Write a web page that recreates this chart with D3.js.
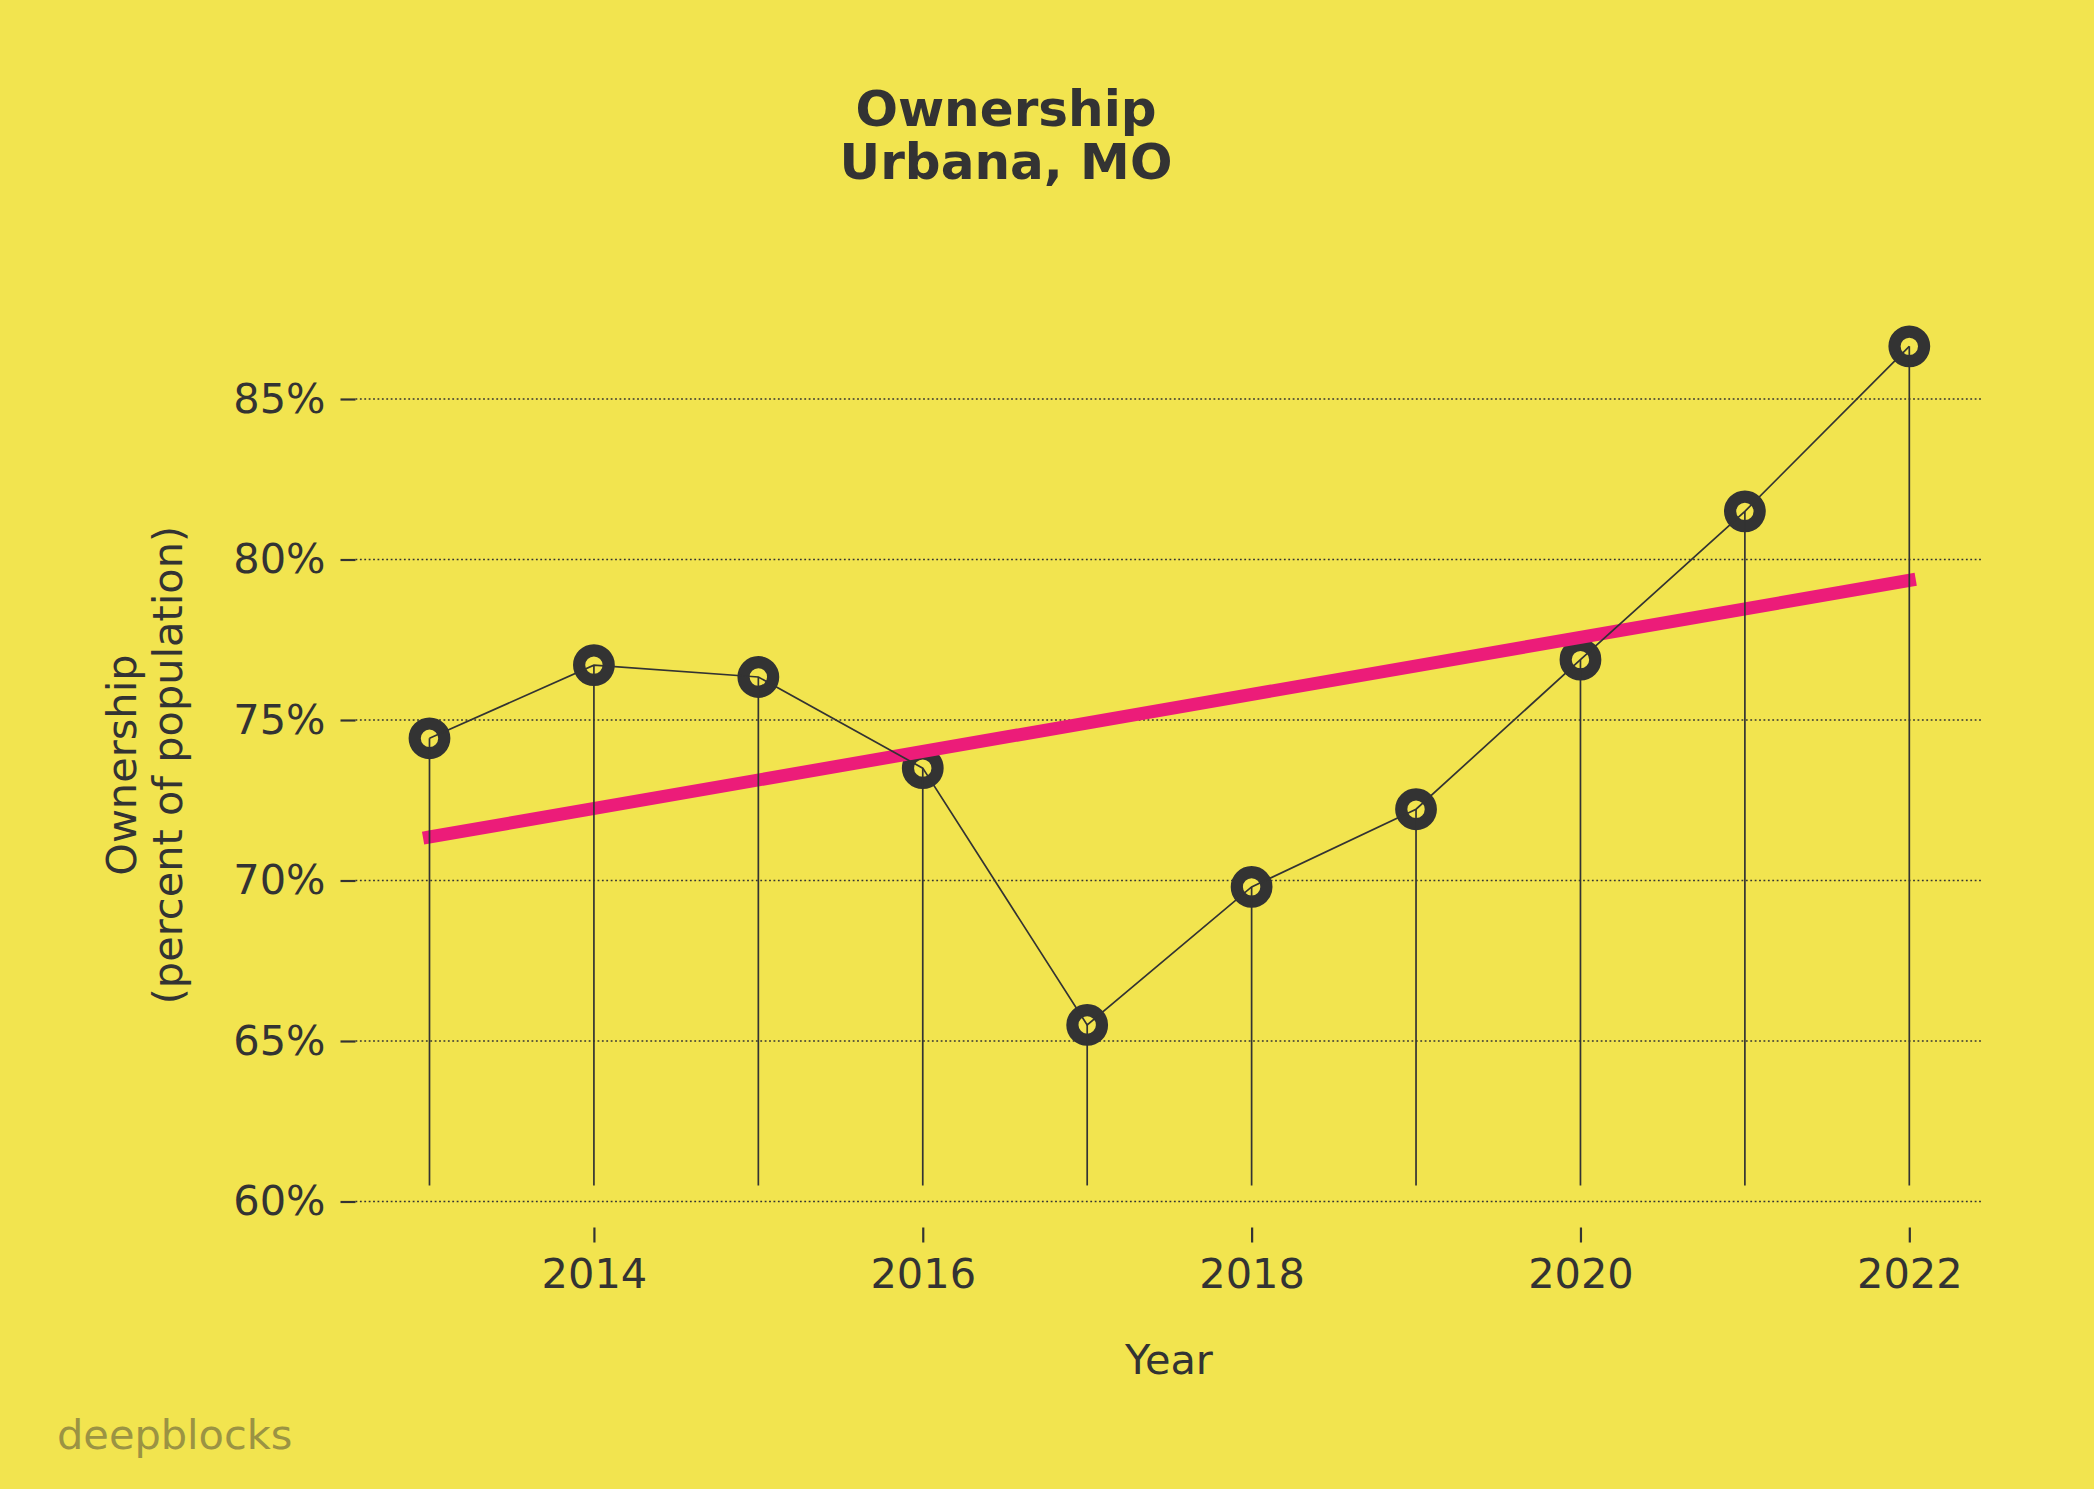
<!DOCTYPE html>
<html>
<head>
<meta charset="utf-8">
<script src="https://cdn.jsdelivr.net/npm/d3@7"></script>
<style>
  html, body { margin: 0; padding: 0; background: #f2e44f; }
  svg { display: block; }
  text { font-family: "DejaVu Sans", sans-serif; fill: #333333; }
</style>
</head>
<body>
<svg id="chart" width="2094" height="1489"></svg>
<script>
// ---- data ----
const years = [2013, 2014, 2015, 2016, 2017, 2018, 2019, 2020, 2021, 2022];
const ownership = [74.43, 76.71, 76.34, 73.50, 65.50, 69.80, 72.22, 76.88, 81.50, 86.64];
const stemBase = 60.5;
const yTicks = [60, 65, 70, 75, 80, 85];
const xTicks = [2014, 2016, 2018, 2020, 2022];
const titleLines = ["Ownership", "Urbana, MO"];
const yLabelLines = ["Ownership", "(percent of population)"];
const xLabel = "Year";
const watermark = "deepblocks";

const W = 2094, H = 1489;
const bg = "#f2e44f", dark = "#333333", pink = "#ec1c79";
const fs = 41.5;

const svg = d3.select("#chart");
svg.append("rect").attr("width", W).attr("height", H).attr("fill", bg);

const x = d3.scaleLinear().domain([2012.55, 2022.45]).range([355.5, 1983.3]);
const y = d3.scaleLinear().domain([59.19, 88.0]).range([1227.5, 302.7]);

const data = years.map((yr, i) => ({ yr, v: ownership[i] }));

// gridlines
svg.append("g").selectAll("line").data(yTicks).join("line")
  .attr("x1", x.range()[0]).attr("x2", x.range()[1])
  .attr("y1", d => y(d)).attr("y2", d => y(d))
  .attr("stroke", dark).attr("stroke-width", 1.6)
  .attr("stroke-dasharray", "1.8,2.6");

// y axis
const yAxis = d3.axisLeft(y).tickValues(yTicks).tickSize(15).tickPadding(15)
  .tickFormat(d => d + "%");
const gy = svg.append("g").attr("transform", `translate(${x.range()[0]},0)`).call(yAxis);
gy.select(".domain").remove();
gy.selectAll(".tick line").attr("stroke", dark).attr("stroke-width", 2.2);
gy.selectAll(".tick text").attr("font-size", fs).attr("fill", dark)
  .attr("font-family", "DejaVu Sans");

// x axis
const xAxis = d3.axisBottom(x).tickValues(xTicks).tickSize(15).tickPadding(16)
  .tickFormat(d3.format("d"));
const gx = svg.append("g").attr("transform", `translate(0,${y.range()[0]})`).call(xAxis);
gx.select(".domain").remove();
gx.selectAll(".tick line").attr("stroke", dark).attr("stroke-width", 2.2);
gx.selectAll(".tick text").attr("font-size", fs).attr("fill", dark)
  .attr("font-family", "DejaVu Sans");

// markers
svg.append("g").selectAll("circle").data(data).join("circle")
  .attr("cx", d => x(d.yr)).attr("cy", d => y(d.v)).attr("r", 14.8)
  .attr("fill", bg).attr("stroke", dark).attr("stroke-width", 12.2);

// trend line (least squares fit of the data)
const mx = d3.mean(years), my = d3.mean(ownership);
const slope = d3.sum(data, d => (d.yr - mx) * (d.v - my)) / d3.sum(data, d => (d.yr - mx) ** 2);
const fit = t => my + slope * (t - mx);
const x0 = years[0], x1 = years[years.length - 1];
svg.append("line")
  .attr("x1", x(x0)).attr("y1", y(fit(x0)))
  .attr("x2", x(x1)).attr("y2", y(fit(x1)))
  .attr("stroke", pink).attr("stroke-width", 13).attr("stroke-linecap", "square");

// stems
svg.append("g").selectAll("line").data(data).join("line")
  .attr("x1", d => x(d.yr)).attr("x2", d => x(d.yr))
  .attr("y1", y(stemBase)).attr("y2", d => y(d.v))
  .attr("stroke", dark).attr("stroke-width", 1.7);

// connecting line
svg.append("path").datum(data)
  .attr("d", d3.line().x(d => x(d.yr)).y(d => y(d.v)))
  .attr("fill", "none").attr("stroke", dark).attr("stroke-width", 1.7);

// title
svg.append("text").attr("x", 1006).attr("y", 125.7)
  .attr("text-anchor", "middle").attr("font-size", 50).attr("font-weight", "bold")
  .text(titleLines[0]);
svg.append("text").attr("x", 1006).attr("y", 179.3)
  .attr("text-anchor", "middle").attr("font-size", 50).attr("font-weight", "bold")
  .text(titleLines[1]);

// axis labels
svg.append("text").attr("x", 1169).attr("y", 1374)
  .attr("text-anchor", "middle").attr("font-size", fs).text(xLabel);

const yc = (y.range()[0] + y.range()[1]) / 2;
svg.append("text").attr("transform", `translate(136,${yc}) rotate(-90)`)
  .attr("text-anchor", "middle").attr("font-size", fs).text(yLabelLines[0]);
svg.append("text").attr("transform", `translate(182,${yc}) rotate(-90)`)
  .attr("text-anchor", "middle").attr("font-size", fs).text(yLabelLines[1]);

// watermark
svg.append("text").attr("x", 57).attr("y", 1449)
  .attr("font-size", fs).style("fill", "#9b9343").text(watermark);
</script>
</body>
</html>
